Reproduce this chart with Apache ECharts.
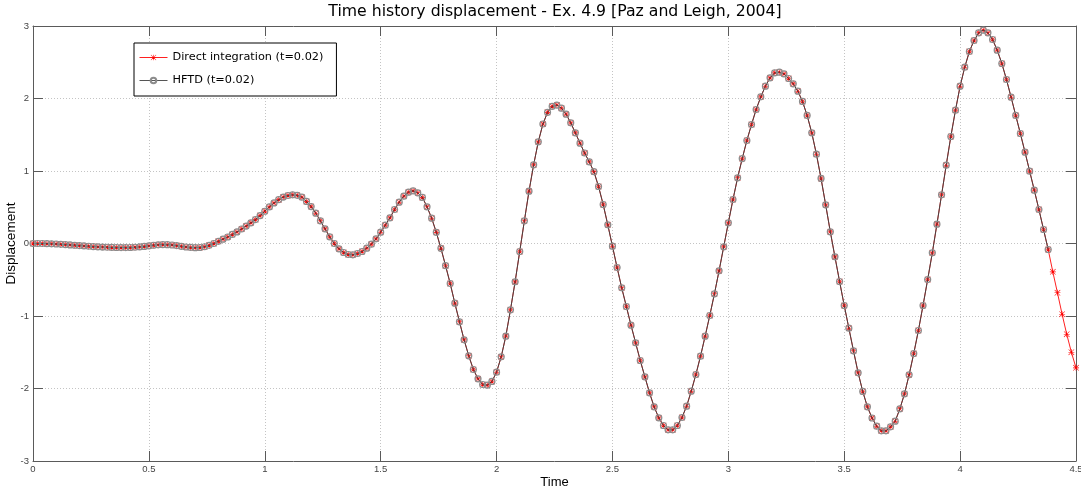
<!DOCTYPE html>
<html>
<head>
<meta charset="utf-8">
<script src="https://cdn.jsdelivr.net/npm/echarts@6/dist/echarts.min.js"></script>
<style>
html,body{margin:0;padding:0;background:#fff;}
#chart{width:1081px;height:488px;}
</style>
</head>
<body>
<div id="chart"></div>
<script>
const titleText = 'Time history displacement - Ex. 4.9 [Paz and Leigh, 2004]';
const xTicks = [0, 0.5, 1, 1.5, 2, 2.5, 3, 3.5, 4, 4.5];
const yTicks = [-3, -2, -1, 0, 1, 2, 3];
const dt = 0.02; // sampling step of both solutions
// Direct integration displacement, t = 0 .. 4.50
const directValues = [
 0, 0, 0, -0.002, -0.004, -0.007, -0.011, -0.015, -0.019, -0.024,
 -0.029, -0.034, -0.038, -0.042, -0.046, -0.049, -0.052, -0.054, -0.055, -0.056,
 -0.056, -0.055, -0.052, -0.047, -0.040, -0.032, -0.024, -0.018, -0.015, -0.016,
 -0.021, -0.029, -0.039, -0.048, -0.054, -0.057, -0.055, -0.045, -0.025, 0.000,
 0.030, 0.060, 0.090, 0.125, 0.160, 0.200, 0.240, 0.285, 0.330, 0.385,
 0.445, 0.505, 0.560, 0.605, 0.640, 0.662, 0.671, 0.664, 0.639, 0.581,
 0.510, 0.418, 0.313, 0.202, 0.092, 0.000, -0.074, -0.124, -0.152, -0.156,
 -0.138, -0.110, -0.064, -0.009, 0.064, 0.156, 0.253, 0.354, 0.469, 0.570,
 0.653, 0.708, 0.726, 0.699, 0.636, 0.506, 0.349, 0.154, -0.066, -0.306,
 -0.552, -0.823, -1.080, -1.329, -1.549, -1.738, -1.867, -1.945, -1.954, -1.903,
 -1.775, -1.563, -1.278, -0.915, -0.529, -0.110, 0.313, 0.722, 1.085, 1.402,
 1.648, 1.809, 1.892, 1.910, 1.867, 1.784, 1.664, 1.526, 1.384, 1.248,
 1.126, 0.991, 0.786, 0.538, 0.257, -0.037, -0.331, -0.611, -0.869, -1.126,
 -1.370, -1.614, -1.839, -2.060, -2.253, -2.405, -2.510, -2.570, -2.570, -2.510,
 -2.400, -2.244, -2.037, -1.807, -1.554, -1.278, -0.993, -0.694, -0.377, -0.046,
 0.285, 0.607, 0.906, 1.172, 1.421, 1.641, 1.848, 2.023, 2.170, 2.285,
 2.354, 2.363, 2.340, 2.276, 2.202, 2.101, 1.959, 1.766, 1.526, 1.232,
 0.897, 0.533, 0.161, -0.184, -0.524, -0.855, -1.168, -1.480, -1.784, -2.041,
 -2.253, -2.407, -2.520, -2.584, -2.584, -2.529, -2.451, -2.280, -2.074, -1.811,
 -1.517, -1.200, -0.855, -0.497, -0.129, 0.267, 0.671, 1.080, 1.476, 1.839,
 2.170, 2.432, 2.648, 2.800, 2.906, 2.943, 2.906, 2.814, 2.667, 2.483,
 2.262, 2.018, 1.766, 1.517, 1.260, 0.998, 0.736, 0.469, 0.193, -0.083,
 -0.391, -0.680, -0.975, -1.251, -1.499, -1.715
];
// HFTD displacement, t = 0 .. 4.38
const hftdValues = [
 0, 0, 0, -0.002, -0.004, -0.007, -0.011, -0.015, -0.019, -0.024,
 -0.029, -0.034, -0.038, -0.042, -0.046, -0.049, -0.052, -0.054, -0.055, -0.056,
 -0.056, -0.055, -0.052, -0.047, -0.040, -0.032, -0.024, -0.018, -0.015, -0.016,
 -0.021, -0.029, -0.039, -0.048, -0.054, -0.057, -0.055, -0.045, -0.025, 0.000,
 0.030, 0.060, 0.090, 0.125, 0.160, 0.200, 0.240, 0.285, 0.330, 0.385,
 0.445, 0.505, 0.560, 0.605, 0.640, 0.662, 0.671, 0.664, 0.639, 0.581,
 0.510, 0.418, 0.313, 0.202, 0.092, 0.000, -0.074, -0.124, -0.152, -0.156,
 -0.138, -0.110, -0.064, -0.009, 0.064, 0.156, 0.253, 0.354, 0.469, 0.570,
 0.653, 0.708, 0.726, 0.699, 0.636, 0.506, 0.349, 0.154, -0.066, -0.306,
 -0.552, -0.823, -1.080, -1.329, -1.549, -1.738, -1.867, -1.945, -1.954, -1.903,
 -1.775, -1.563, -1.278, -0.915, -0.529, -0.110, 0.313, 0.722, 1.085, 1.402,
 1.648, 1.809, 1.892, 1.910, 1.867, 1.784, 1.664, 1.526, 1.384, 1.248,
 1.126, 0.991, 0.786, 0.538, 0.257, -0.037, -0.331, -0.611, -0.869, -1.126,
 -1.370, -1.614, -1.839, -2.060, -2.253, -2.405, -2.510, -2.570, -2.570, -2.510,
 -2.400, -2.244, -2.037, -1.807, -1.554, -1.278, -0.993, -0.694, -0.377, -0.046,
 0.285, 0.607, 0.906, 1.172, 1.421, 1.641, 1.848, 2.023, 2.170, 2.285,
 2.354, 2.363, 2.340, 2.276, 2.202, 2.101, 1.959, 1.766, 1.526, 1.232,
 0.897, 0.533, 0.161, -0.184, -0.524, -0.855, -1.168, -1.480, -1.784, -2.041,
 -2.253, -2.407, -2.520, -2.584, -2.584, -2.529, -2.451, -2.280, -2.074, -1.811,
 -1.517, -1.200, -0.855, -0.497, -0.129, 0.267, 0.671, 1.080, 1.476, 1.839,
 2.170, 2.432, 2.648, 2.800, 2.906, 2.943, 2.906, 2.814, 2.667, 2.483,
 2.262, 2.018, 1.766, 1.517, 1.260, 0.998, 0.736, 0.469, 0.193, -0.083
];

const toPairs = arr => arr.map((v, i) => [Math.round(i * dt * 100) / 100, v]);
const starPath = 'path://M9,0L11,0L11,20L9,20Z M0,9L20,9L20,11L0,11Z M0,1.4L1.4,0L20,18.6L18.6,20Z M18.6,0L20,1.4L1.4,20L0,18.6Z';
const FONT = 'Liberation Sans, Arial, Helvetica, sans-serif';
const WFONT = 'DejaVu Sans, Verdana, sans-serif';
const axisGray = '#5a5a5a';
const gridLine = {show: true, lineStyle: {color: '#c4c4c4', type: [1, 2], width: 1}};

const chart = echarts.init(document.getElementById('chart'), null, {renderer: 'canvas'});
const tickCommon = {show: true, inside: true, length: 10, lineStyle: {color: axisGray, width: 1}};
chart.setOption({
  animation: false,
  backgroundColor: '#fff',
  graphic: [{
    type: 'text', x: 555, y: 12, z: 100,
    style: {text: titleText, font: '15.7px ' + WFONT, fill: '#000', textAlign: 'center', textVerticalAlign: 'middle'}
  }],
  grid: {left: 33, right: 5, top: 26, bottom: 27, containLabel: false, outerBoundsMode: 'none'},
  legend: {
    left: 134, top: 43, orient: 'vertical',
    backgroundColor: '#fff', borderColor: '#000', borderWidth: 1, borderRadius: 0,
    padding: [9, 13, 10, 5], itemGap: 12, itemWidth: 28, itemHeight: 7,
    textStyle: {fontFamily: WFONT, fontSize: 11.3, color: '#000'},
    data: [
      {name: 'Direct integration (t=0.02)', lineStyle: {width: 1, color: '#ff2020'}},
      {name: 'HFTD (t=0.02)', lineStyle: {width: 1, color: '#555'}}
    ]
  },
  xAxis: [{
    type: 'value', min: 0, max: 4.5, interval: 0.5, position: 'bottom',
    name: 'Time', nameLocation: 'middle', nameGap: 15, nameMoveOverlap: false,
    nameTextStyle: {fontFamily: FONT, fontSize: 13, color: '#000'},
    axisLine: {show: true, onZero: false, lineStyle: {color: axisGray}},
    axisTick: tickCommon,
    axisLabel: {fontFamily: FONT, fontSize: 9.5, color: '#444', margin: 3,
      formatter: v => xTicks.includes(v) ? String(v) : ''},
    splitLine: gridLine
  }, {
    type: 'value', min: 0, max: 4.5, interval: 0.5, position: 'top',
    axisLine: {show: true, onZero: false, lineStyle: {color: axisGray}},
    axisTick: tickCommon, axisLabel: {show: false}, splitLine: {show: false}
  }],
  yAxis: [{
    type: 'value', min: -3, max: 3, interval: 1, position: 'left',
    name: 'Displacement', nameLocation: 'middle', nameGap: 15, nameRotate: 90, nameMoveOverlap: false,
    nameTextStyle: {fontFamily: FONT, fontSize: 13.5, color: '#000'},
    axisLine: {show: true, onZero: false, lineStyle: {color: axisGray}},
    axisTick: tickCommon,
    axisLabel: {fontFamily: FONT, fontSize: 9.5, color: '#444', margin: 4,
      formatter: v => yTicks.includes(v) ? String(v) : ''},
    splitLine: gridLine
  }, {
    type: 'value', min: -3, max: 3, interval: 1, position: 'right',
    axisLine: {show: true, onZero: false, lineStyle: {color: axisGray}},
    axisTick: tickCommon, axisLabel: {show: false}, splitLine: {show: false}
  }],
  series: [{
    name: 'Direct integration (t=0.02)', type: 'line',
    data: toPairs(directValues),
    showAllSymbol: true, symbol: starPath, symbolSize: 6,
    lineStyle: {color: '#ff2020', width: 1},
    itemStyle: {color: '#ff0000'},
    clip: false, z: 2
  }, {
    name: 'HFTD (t=0.02)', type: 'line',
    data: toPairs(hftdValues),
    showAllSymbol: true, symbol: 'circle', symbolSize: 6,
    lineStyle: {color: '#444', width: 1},
    itemStyle: {color: 'rgba(0,0,0,0)', borderColor: '#8c8c8c', borderWidth: 1.2},
    clip: false, z: 3
  }]
});
</script>
</body>
</html>
